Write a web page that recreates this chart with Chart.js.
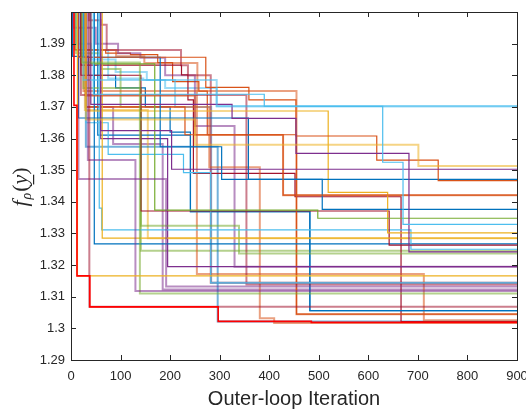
<!DOCTYPE html>
<html>
<head>
<meta charset="utf-8">
<script src="https://cdn.jsdelivr.net/npm/chart.js@4/dist/chart.umd.min.js"></script>
<style>
  html, body { margin: 0; padding: 0; background: #fff; }
  #wrap { width: 526px; height: 410px; }
</style>
</head>
<body>
<div id="wrap"><canvas id="c" width="526" height="410"></canvas></div>
<script>
// tick positions
var xTicks = [0, 100, 200, 300, 400, 500, 600, 700, 800, 900];
var yTicks = [1.29, 1.30, 1.31, 1.32, 1.33, 1.34, 1.35, 1.36, 1.37, 1.38, 1.39, 1.40];

// each run: [iteration, objective] at the iterations where it improves
var run01 = [[0,1.41],[6,1.3705],[12,1.3166],[38,1.3068],[297,1.3022],[485,1.3019],[900,1.3019]];
var run02 = [[0,1.41],[13,1.3166],[900,1.3166]];
var run03 = [[0,1.41],[37,1.3068],[900,1.3068]];
var run04 = [[0,1.41],[15,1.3472],[192,1.3132],[900,1.3132]];
var run05 = [[0,1.41],[34,1.3532],[130,1.3118],[900,1.3118]];
var run06 = [[0,1.41],[22,1.3840],[139,1.3110],[900,1.3110]];
var run07 = [[0,1.41],[25,1.3785],[294,1.3702],[900,1.3702]];
var run08 = [[0,1.41],[45,1.3740],[390,1.3702],[629,1.3525],[670,1.3329],[900,1.3329]];
var run09 = [[0,1.41],[30,1.3660],[250,1.3580],[701,1.3513],[900,1.3513]];
var run10 = [[0,1.41],[40,1.3708],[325,1.3664],[454,1.3553],[682,1.3242],[900,1.3242]];
var run11 = [[0,1.41],[60,1.3625],[203,1.3503],[900,1.3503]];
var run12 = [[0,1.41],[15,1.3857],[272,1.3762],[359,1.3722],[454,1.3608],[617,1.3532],[741,1.3467],[900,1.3467]];
var run13 = [[0,1.41],[30,1.3735],[250,1.3611],[428,1.3421],[900,1.3421]];
var run14 = [[0,1.41],[15,1.3665],[358,1.3471],[507,1.3376],[900,1.3376]];
var run15 = [[0,1.41],[25,1.3857],[180,1.3574],[304,1.3471],[900,1.3471]];
var run16 = [[0,1.41],[40,1.3836],[169,1.3374],[498,1.3348],[900,1.3348]];
var run17 = [[0,1.41],[30,1.3687],[519,1.3430],[639,1.3302],[900,1.3302]];
var run18 = [[0,1.41],[63,1.3285],[900,1.3285]];
var run19 = [[0,1.41],[20,1.3800],[141,1.3371],[642,1.3263],[900,1.3263]];
var run20 = [[0,1.41],[57,1.3380],[62,1.3311],[686,1.3250],[900,1.3250]];
var run21 = [[0,1.41],[25,1.3760],[141,1.3324],[339,1.3237],[900,1.3237]];
var run22 = [[0,1.41],[47,1.3267],[900,1.3267]];
var run23 = [[0,1.41],[60,1.3600],[195,1.3195],[900,1.3195]];
var run24 = [[0,1.41],[30,1.3650],[75,1.3550],[227,1.3492],[282,1.3144],[900,1.3144]];
var run25 = [[0,1.41],[20,1.3738],[354,1.3139],[900,1.3139]];
var run26 = [[0,1.41],[30,1.3700],[230,1.3612],[455,1.3045],[900,1.3045]];
var run27 = [[0,1.41],[54,1.3611],[241,1.3369],[482,1.3056],[900,1.3056]];
var run28 = [[0,1.41],[30,1.3700],[279,1.3509],[381,1.3032],[410,1.3017],[900,1.3017]];
var run29 = [[0,1.41],[25,1.3750],[254,1.3172],[712,1.3026],[900,1.3026]];
var run30 = [[0,1.41],[20,1.3832],[223,1.3801],[236,1.3722],[247,1.3490],[452,1.3416],[666,1.3021],[900,1.3021]];
var run31 = [[0,1.41],[30,1.3574],[296,1.3022],[900,1.3022]];
var run32 = [[0,1.41],[36,1.3974],[60,1.3960],[72,1.3880],[222,1.3832],[236,1.3800],[282,1.3144],[900,1.3144]];
var run33 = [[0,1.41],[28,1.3880],[91,1.3860],[148,1.3839],[255,1.3750],[455,1.3045],[900,1.3045]];
var run34 = [[0,1.41],[10,1.3870],[60,1.3820],[100,1.3700],[141,1.3245],[900,1.3245]];
var run35 = [[0,1.41],[10,1.3900],[40,1.3850],[90,1.3810],[153,1.3785],[210,1.3700],[283,1.3144],[900,1.3144]];
var run36 = [[0,1.41],[28,1.3690],[155,1.3285],[900,1.3285]];
var run37 = [[0,1.41],[30,1.3700],[85,1.3583],[185,1.3123],[900,1.3123]];
var run38 = [[0,1.41],[5,1.3950],[50,1.3900],[95,1.3870],[140,1.3855],[190,1.3800],[250,1.3640],[330,1.3195],[900,1.3195]];
var run39 = [[0,1.41],[8,1.3880],[70,1.3870],[120,1.3865],[175,1.3840],[205,1.3780],[258,1.3750],[275,1.3612],[428,1.3421],[900,1.3421]];
var run40 = [[0,1.41],[3,1.3860],[35,1.3800],[90,1.3760],[150,1.3700],[200,1.3620],[241,1.3369],[482,1.3056],[900,1.3056]];
var run41 = [[0,1.41],[18,1.3880],[75,1.3790],[146,1.3785],[190,1.3760],[294,1.3702],[900,1.3702]];

var runs = [run01, run02, run03, run04, run05, run06, run07, run08, run09, run10,
  run11, run12, run13, run14, run15, run16, run17, run18, run19, run20,
  run21, run22, run23, run24, run25, run26, run27, run28, run29, run30,
  run31, run32, run33, run34, run35, run36, run37, run38, run39, run40, run41];

// matlab line colours, one per run, and whether the run is drawn faded
var runColors = ['#FF0000','#EDB120','#A2142F','#7E2F8E','#7E2F8E','#77AC30','#4DBEEE','#4DBEEE','#EDB120','#7E2F8E',
  '#7E2F8E','#D95319','#D95319','#0072BD','#0072BD','#77AC30','#EDB120','#EDB120','#A2142F','#4DBEEE',
  '#77AC30','#0072BD','#7E2F8E','#4DBEEE','#A2142F','#D95319','#0072BD','#D95319','#D95319','#A2142F',
  '#0072BD','#A2142F','#D95319','#77AC30','#4DBEEE','#EDB120','#7E2F8E','#7E2F8E','#D95319','#0072BD','#4DBEEE'];
var runFaded = [0,0,1,1,1,1,1,0,1,0, 0,0,1,0,0,0,0,0,0,0, 1,0,0,0,1,0,0,1,1,0, 1,1,1,1,1,1,1,1,0,0,1];

function fade(hex, a) {
  var n = parseInt(hex.slice(1), 16);
  return 'rgba(' + (n >> 16) + ',' + ((n >> 8) & 255) + ',' + (n & 255) + ',' + a + ')';
}

var datasets = runs.map(function(run, i) {
  return {
    data: run.map(function(p) { return {x: p[0], y: p[1]}; }),
    stepped: true,
    fill: false,
    pointRadius: 0,
    borderColor: runFaded[i] ? fade(runColors[i], 0.55) : runColors[i],
    borderWidth: runFaded[i] ? 2 : (i === 0 ? 1.6 : 1.2),
  };
});

var axisColor = '#262626';

var frame = {
  id: 'frame',
  afterDraw: function(chart) {
    var ctx = chart.ctx, a = chart.chartArea;
    var x = chart.scales.x, y = chart.scales.y;
    ctx.save();
    ctx.strokeStyle = axisColor;
    ctx.lineWidth = 1;
    ctx.strokeRect(Math.round(a.left) + 0.5, Math.round(a.top) + 0.5,
      Math.round(a.right - a.left), Math.round(a.bottom - a.top));
    ctx.beginPath();
    xTicks.forEach(function(v) {
      var px = Math.round(x.getPixelForValue(v)) + 0.5;
      ctx.moveTo(px, a.bottom); ctx.lineTo(px, a.bottom - 5);
      ctx.moveTo(px, a.top); ctx.lineTo(px, a.top + 5);
    });
    yTicks.forEach(function(v) {
      var py = Math.round(y.getPixelForValue(v)) + 0.5;
      ctx.moveTo(a.left, py); ctx.lineTo(a.left + 5, py);
      ctx.moveTo(a.right, py); ctx.lineTo(a.right - 5, py);
    });
    ctx.stroke();

    // x title
    ctx.fillStyle = axisColor;
    ctx.font = '20px "Liberation Sans", Arial, sans-serif';
    ctx.textAlign = 'center';
    ctx.textBaseline = 'alphabetic';
    ctx.fillText('Outer-loop Iteration', 294, 405);

    // y title: f_rho(y underlined)
    ctx.translate(22, 187);
    ctx.rotate(-Math.PI / 2);
    ctx.textAlign = 'left';
    var it = 'italic 22px "Liberation Serif", serif';
    var sub = 'italic 14px "Liberation Serif", serif';
    var up = '22px "Liberation Serif", serif';
    ctx.font = it; var wf = ctx.measureText('f').width + 1; var wy = ctx.measureText('y').width;
    ctx.font = sub; var wr = ctx.measureText('\u03C1').width + 1;
    ctx.font = up; var wo = ctx.measureText('(').width, wc = ctx.measureText(')').width;
    var total = wf + wr + wo + wy + wc;
    var cx = -total / 2, base = 5;
    ctx.font = it; ctx.fillText('f', cx, base); cx += wf;
    ctx.font = sub; ctx.fillText('\u03C1', cx, base + 4); cx += wr;
    ctx.font = up; ctx.fillText('(', cx, base); cx += wo;
    ctx.font = it; ctx.fillText('y', cx, base);
    ctx.fillRect(cx, base + 6, wy, 1.2); cx += wy;
    ctx.font = up; ctx.fillText(')', cx, base);
    ctx.restore();
  }
};

new Chart(document.getElementById('c'), {
  type: 'line',
  data: { datasets: datasets },
  options: {
    responsive: false,
    animation: false,
    events: [],
    layout: { padding: { left: 0, top: 12, right: 9, bottom: 0 } },
    plugins: { legend: { display: false }, tooltip: { enabled: false } },
    scales: {
      x: {
        type: 'linear', min: 0, max: 900,
        grid: { display: false, drawTicks: false },
        border: { display: false },
        afterBuildTicks: function(s) { s.ticks = xTicks.map(function(v) { return {value: v}; }); },
        afterFit: function(s) { s.height = 50; s.paddingLeft = 0; s.paddingRight = 0; },
        ticks: { color: axisColor, padding: 9, maxRotation: 0, font: { family: '"Liberation Sans", Arial, sans-serif', size: 13 } }
      },
      y: {
        type: 'linear', min: 1.29, max: 1.40,
        grid: { display: false, drawTicks: false },
        border: { display: false },
        afterBuildTicks: function(s) { s.ticks = yTicks.map(function(v) { return {value: v}; }); },
        afterFit: function(s) { s.width = 71; s.paddingTop = 0; s.paddingBottom = 0; },
        ticks: {
          color: axisColor, padding: 6,
          font: { family: '"Liberation Sans", Arial, sans-serif', size: 13 },
          callback: function(v) { return v > 1.3995 ? '' : String(+v.toFixed(2)); }
        }
      }
    }
  },
  plugins: [frame]
});
</script>
</body>
</html>
